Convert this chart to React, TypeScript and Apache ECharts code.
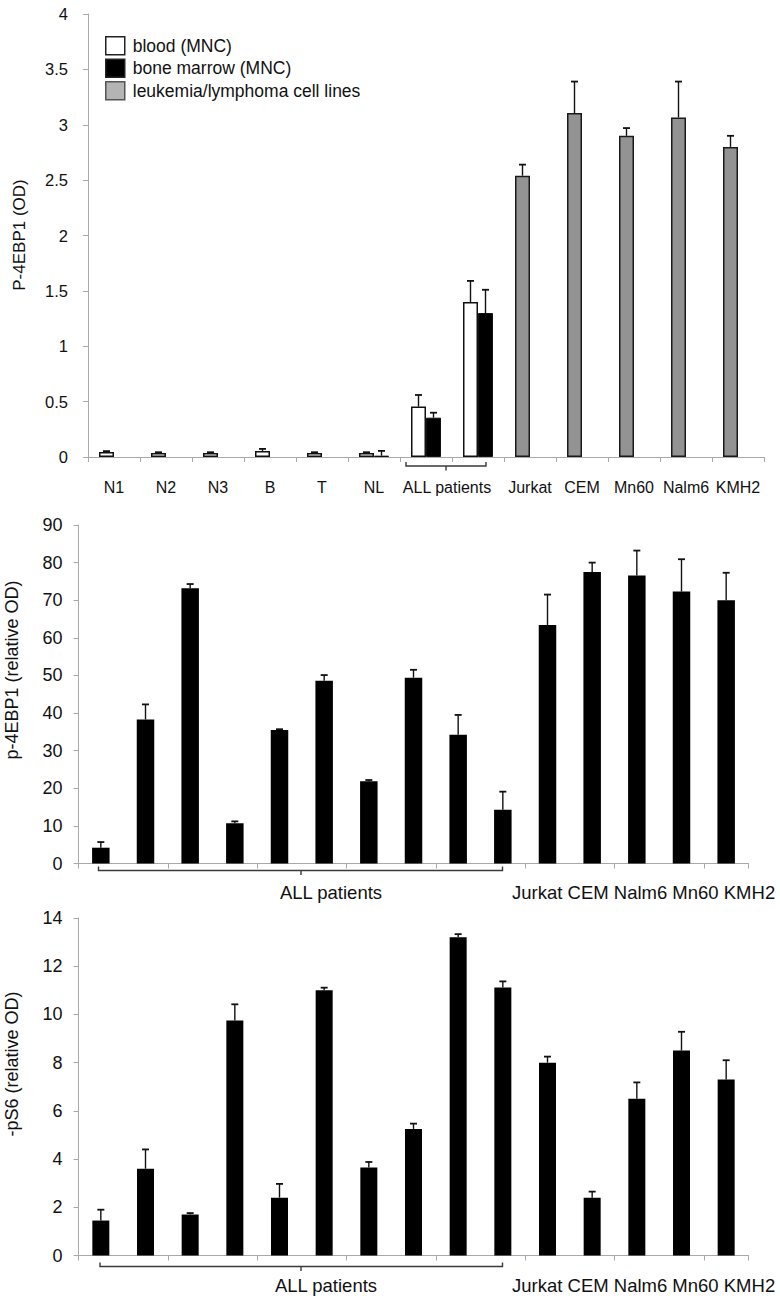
import React, { useEffect, useRef } from 'react';
import * as echarts from 'echarts';

const FONT = 'Liberation Sans';

// ---------- Top chart data ----------
const topCategories = ['N1', 'N2', 'N3', 'B', 'T', 'NL', 'ALL patients 1', 'ALL patients 2', 'Jurkat', 'CEM', 'Mn60', 'Nalm6', 'KMH2'];
const bloodValues = [0.045, 0.035, 0.035, 0.055, 0.035, 0.035, 0.455, 1.40, 2.54, 3.105, 2.90, 3.066, 2.80];
const bloodErrors = [0.008, 0.008, 0.008, 0.018, 0.008, 0.008, 0.105, 0.19, 0.10, 0.285, 0.07, 0.324, 0.10];
const marrowValues = [null, null, null, null, null, 0.012, 0.355, 1.30, null, null, null, null, null];
const marrowErrors = [null, null, null, null, null, 0.043, 0.045, 0.21, null, null, null, null, null];
const cellLineIdx = [8, 9, 10, 11, 12];
const topTicks = { min: 0, max: 4, interval: 0.5 };

// ---------- Middle chart data ----------
const patientCats = ['P1', 'P2', 'P3', 'P4', 'P5', 'P6', 'P7', 'P8', 'P9', 'P10'];
const cellLines = ['Jurkat', 'CEM', 'Nalm6', 'Mn60', 'KMH2'];
const midValues = [4.2, 38.3, 73.2, 10.7, 35.5, 48.6, 21.9, 49.4, 34.2, 14.3, 63.4, 77.5, 76.6, 72.3, 70.0];
const midErrors = [1.5, 4.0, 1.1, 0.5, 0.2, 1.5, 0.3, 2.1, 5.3, 4.8, 8.1, 2.5, 6.6, 8.6, 7.3];
const midTicks = { min: 0, max: 90, interval: 10 };

// ---------- Bottom chart data ----------
const botValues = [1.45, 3.6, 1.7, 9.75, 2.4, 11.0, 3.65, 5.25, 13.2, 11.12, 8.0, 2.4, 6.5, 8.5, 7.3];
const botErrors = [0.45, 0.8, 0.06, 0.67, 0.57, 0.11, 0.23, 0.22, 0.13, 0.25, 0.25, 0.25, 0.68, 0.78, 0.8];
const botTicks = { min: 0, max: 14, interval: 2 };

const AXIS_GRAY = '#a9a9a9';

function errorSeries(xAxisIndex: number, yAxisIndex: number, values: (number | null)[], errs: (number | null)[], offset: number) {
  const data = values
    .map((v, i) => (v == null || errs[i] == null ? null : [i, v, errs[i]]))
    .filter((d) => d !== null);
  return {
    type: 'custom',
    xAxisIndex,
    yAxisIndex,
    z: 5,
    silent: true,
    encode: { x: 0, y: 1 },
    data,
    renderItem: (params: any, api: any) => {
      const i = api.value(0);
      const v = api.value(1);
      const e = api.value(2);
      const p0 = api.coord([i, v]);
      const p1 = api.coord([i, v + e]);
      const x = p0[0] + offset;
      return {
        type: 'group',
        children: [
          { type: 'line', shape: { x1: x, y1: p0[1], x2: x, y2: p1[1] }, style: { stroke: '#111', lineWidth: 1.4 } },
          { type: 'line', shape: { x1: x - 3.5, y1: p1[1], x2: x + 3.5, y2: p1[1] }, style: { stroke: '#111', lineWidth: 1.8 } },
        ],
      };
    },
  };
}

function yAxisBase(gridIndex: number, ticks: { min: number; max: number; interval: number }, fontSize: number, margin: number) {
  return {
    type: 'value',
    gridIndex,
    min: ticks.min,
    max: ticks.max,
    interval: ticks.interval,
    splitLine: { show: false },
    axisLine: { show: true, lineStyle: { color: AXIS_GRAY, width: 1 } },
    axisTick: { show: true, length: 5, lineStyle: { color: AXIS_GRAY } },
    axisLabel: { color: '#111', fontFamily: FONT, fontSize, margin },
  };
}

function vText(text: string, x: number, y: number, size: number) {
  return {
    type: 'text',
    x,
    y,
    rotation: Math.PI / 2,
    style: {
      text,
      fill: '#111',
      font: `${size}px "${FONT}"`,
      textAlign: 'center',
      textVerticalAlign: 'middle',
      align: 'center',
      verticalAlign: 'middle',
    },
  };
}

function hText(text: string, x: number, y: number, size: number, align: string) {
  return {
    type: 'text',
    x,
    y,
    style: {
      text,
      fill: '#111',
      font: `${size}px "${FONT}"`,
      textAlign: align,
      textVerticalAlign: 'middle',
      align,
      verticalAlign: 'middle',
    },
  };
}

function bracket(x1: number, x2: number, y: number, mid: number) {
  return [
    { type: 'polyline', shape: { points: [[x1, y - 4], [x1, y], [x2, y], [x2, y - 4]] }, style: { stroke: '#3a3a3a', lineWidth: 1.4, fill: 'none' } },
    { type: 'line', shape: { x1: mid, y1: y, x2: mid, y2: y + 4.5 }, style: { stroke: '#3a3a3a', lineWidth: 1.4 } },
  ];
}

export default function App() {
  const ref = useRef<HTMLDivElement>(null);
  useEffect(() => {
    document.body.style.margin = '0';
    const chart = echarts.init(ref.current!, null, { renderer: 'svg' });

    const bottomCats = [...patientCats, ...cellLines];

    const bloodData = bloodValues.map((v, i) =>
      cellLineIdx.includes(i)
        ? { value: v, itemStyle: { color: '#939393', borderColor: '#1a1a1a', borderWidth: 1.5 } }
        : v
    );

    const option: any = {
      animation: false,
      backgroundColor: '#ffffff',
      textStyle: { fontFamily: FONT },
      legend: {
        orient: 'vertical',
        left: 105,
        top: 36,
        padding: 0,
        itemWidth: 19,
        itemHeight: 18,
        itemGap: 3,
        icon: 'rect',
        selectedMode: false,
        textStyle: { fontFamily: FONT, fontSize: 17.5, color: '#111', padding: [0, 0, 0, 3] },
        data: [
          { name: 'blood (MNC)', itemStyle: { color: '#ffffff', borderColor: '#222', borderWidth: 1.5 } },
          { name: 'bone marrow (MNC)', itemStyle: { color: '#000000', borderColor: '#222', borderWidth: 1.5 } },
          { name: 'leukemia/lymphoma cell lines', itemStyle: { color: '#b4b4b4', borderColor: '#555', borderWidth: 1.5 } },
        ],
      },
      grid: [
        { left: 88, top: 14, width: 676, height: 443 },
        { left: 78.5, top: 525, width: 670, height: 338.5 },
        { left: 78.5, top: 918, width: 670, height: 337.5 },
      ],
      xAxis: [
        {
          type: 'category',
          gridIndex: 0,
          data: topCategories,
          axisLine: { lineStyle: { color: AXIS_GRAY } },
          axisTick: { show: true, length: 5, alignWithLabel: false, lineStyle: { color: AXIS_GRAY } },
          axisLabel: {
            interval: 0,
            margin: 22,
            color: '#111',
            fontFamily: FONT,
            fontSize: 16,
            formatter: (v: string) => (v.startsWith('ALL') ? '' : v),
          },
        },
        {
          type: 'category',
          gridIndex: 1,
          data: bottomCats,
          axisLine: { lineStyle: { color: AXIS_GRAY } },
          axisTick: { show: true, length: 5, lineStyle: { color: AXIS_GRAY } },
          axisLabel: { show: false },
        },
        {
          type: 'category',
          gridIndex: 2,
          data: bottomCats,
          axisLine: { lineStyle: { color: AXIS_GRAY } },
          axisTick: { show: true, length: 5, lineStyle: { color: AXIS_GRAY } },
          axisLabel: { show: false },
        },
        { type: 'category', gridIndex: 0, show: false, data: ['x'] },
      ],
      yAxis: [
        yAxisBase(0, topTicks, 16.5, 20),
        yAxisBase(1, midTicks, 18, 16),
        yAxisBase(2, botTicks, 18, 16),
        { type: 'value', gridIndex: 0, show: false, min: 0, max: 1, splitLine: { show: false } },
      ],
      series: [
        {
          type: 'bar',
          name: 'blood (MNC)',
          xAxisIndex: 0,
          yAxisIndex: 0,
          barWidth: 15,
          barGap: '0%',
          data: bloodData,
          itemStyle: { color: '#ffffff', borderColor: '#111', borderWidth: 1.5 },
        },
        {
          type: 'bar',
          name: 'bone marrow (MNC)',
          xAxisIndex: 0,
          yAxisIndex: 0,
          barWidth: 15,
          barGap: '0%',
          data: marrowValues,
          itemStyle: { color: '#000000', borderColor: '#111', borderWidth: 1 },
        },
        {
          type: 'bar',
          name: 'leukemia/lymphoma cell lines',
          xAxisIndex: 3,
          yAxisIndex: 3,
          data: [null],
          itemStyle: { color: '#b4b4b4', borderColor: '#555', borderWidth: 1.5 },
        },
        errorSeries(0, 0, bloodValues, bloodErrors, -7.5),
        errorSeries(0, 0, marrowValues, marrowErrors, 7.5),
        {
          type: 'bar',
          name: 'p-4EBP1',
          xAxisIndex: 1,
          yAxisIndex: 1,
          barWidth: 17.5,
          data: midValues,
          itemStyle: { color: '#000000' },
        },
        errorSeries(1, 1, midValues, midErrors, 0),
        {
          type: 'bar',
          name: 'pS6',
          xAxisIndex: 2,
          yAxisIndex: 2,
          barWidth: 17,
          data: botValues,
          itemStyle: { color: '#000000' },
        },
        errorSeries(2, 2, botValues, botErrors, 0),
      ],
      graphic: [
        vText('P-4EBP1 (OD)', 19, 235, 17),
        vText('p-4EBP1 (relative OD)', 12, 670, 18),
        vText('-pS6 (relative OD)', 12, 1064, 18),
        hText('ALL patients', 447, 487, 16, 'center'),
        hText('ALL patients', 331, 892, 18.5, 'center'),
        hText('Jurkat CEM Nalm6 Mn60 KMH2', 512, 892, 18.5, 'left'),
        hText('ALL patients', 326, 1285, 18.5, 'center'),
        hText('Jurkat CEM Nalm6 Mn60 KMH2', 512, 1285, 18.5, 'left'),
        ...bracket(406, 486, 466, 446),
        ...bracket(98.5, 502.5, 870.5, 301),
        ...bracket(100, 502.5, 1266.5, 301),
      ],
    };

    chart.setOption(option);
    return () => chart.dispose();
  }, []);
  return <div ref={ref} style={{ width: 780, height: 1299 }} />;
}
